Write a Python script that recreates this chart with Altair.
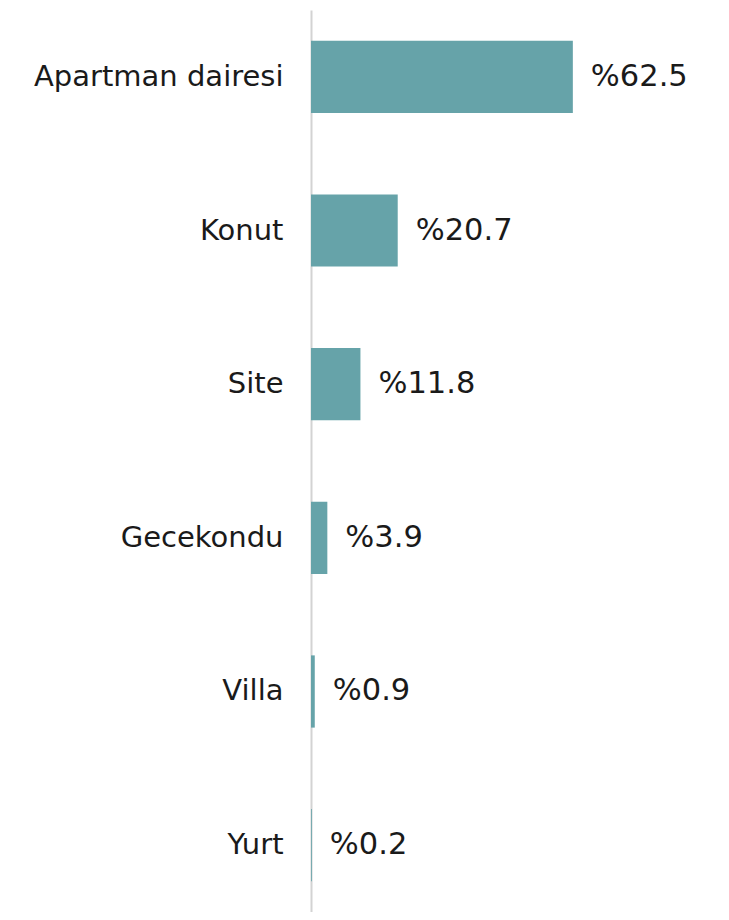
import altair as alt
import pandas as pd

categories = ["Apartman dairesi", "Konut", "Site", "Gecekondu", "Villa", "Yurt"]
values = [62.5, 20.7, 11.8, 3.9, 0.9, 0.2]
labels = ["%62.5", "%20.7", "%11.8", "%3.9", "%0.9", "%0.2"]

df = pd.DataFrame({"cat": categories, "val": values, "lab": labels})

FONT = "DejaVu Sans"

y = alt.Y("cat:N", sort=categories, title=None,
          scale=alt.Scale(paddingInner=0.53, paddingOuter=0.2),
          axis=alt.Axis(domainColor="#d3d3d3", domainWidth=2, ticks=False,
                        labelFontSize=29, labelFont=FONT, labelColor="#1a1a1a",
                        labelPadding=28, labelLimit=400))
x = alt.X("val:Q", title=None, scale=alt.Scale(domain=[0, 95], nice=False),
          axis=None)

bars = alt.Chart(df).mark_bar(color="#66a3a9").encode(x=x, y=y)
text = alt.Chart(df).mark_text(align="left", baseline="middle", dx=18,
                               fontSize=30.5, font=FONT, color="#1a1a1a").encode(
    x=x, y=y, text="lab:N")

chart = (bars + text).properties(
    width=398, height=902,
    padding={"left": 25, "top": 2, "right": 0, "bottom": 0}
).configure_view(stroke=None)

chart.save("out.html", embed_options={"renderer": "svg", "actions": False})
